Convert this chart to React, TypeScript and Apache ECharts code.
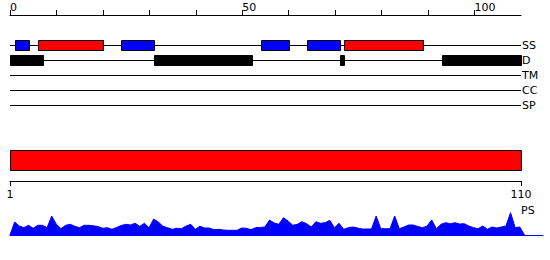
import React, { useEffect, useRef } from "react";
import * as echarts from "echarts";

const tracks = ["SS", "D", "TM", "CC", "SP"];
const topTicks = [0, 10, 20, 30, 40, 50, 60, 70, 80, 90, 100];
const topLabels = [0, 50, 100];
const bottomTicks = [1, 110];
const seqStart = 0;
const seqEnd = 110;
// secondary structure segments [start, end]
const ssRed = [[6, 20], [72, 89]];
const ssBlue = [[1, 4], [24, 31], [54, 60], [64, 71]];
// disorder segments
const disorder = [[0, 7], [31, 52], [71, 72], [93, 110]];
// domain bar
const domainBar = [[1, 110]];
// PS profile, residues 1..110
const psValues = [
  13, 9, 7.3, 9.7, 6.7, 9.7, 9.7, 7.3, 19, 10.7,
  6.3, 9.7, 10.7, 8.7, 7.3, 9.7, 9.7, 9.2, 8.5, 6.7,
  7.3, 5.7, 7.5, 9.5, 10.7, 10, 11.7, 8.7, 11.7, 7.3,
  16, 13, 8.7, 7.3, 5.7, 6.7, 6.3, 9, 10.7, 5.7,
  8.7, 7, 7, 5.3, 5.7, 5, 4.7, 4.7, 4.7, 7,
  6.7, 5.3, 7.3, 7.6, 8, 15, 12, 10.7, 17.3, 14,
  9.7, 10.7, 13.3, 11.3, 8, 13.3, 11.7, 12.3, 14.7, 7.3,
  11.7, 5.7, 7.3, 8, 7, 6, 6, 6, 19, 6.3,
  6.3, 6.3, 19, 6.3, 8, 10, 10, 8.5, 7.3, 9,
  15, 6.3, 10.7, 12.3, 11.3, 12.3, 11, 11.3, 9, 7.3,
  6.3, 9, 5.7, 8, 7, 8, 9, 22.3, 7.3, 8,
];

const FONT = "DejaVu Sans";

export default function App() {
  const ref = useRef<HTMLDivElement>(null);
  useEffect(() => {
    document.body.style.margin = "0";
    const chart = echarts.init(ref.current!, null, { renderer: "svg" });

    const boxRender = (color: string) => (params: any, api: any) => {
      const a = api.coord([api.value(0), api.value(2)]);
      const b = api.coord([api.value(1), api.value(2)]);
      const x0 = Math.round(a[0]);
      const x1 = Math.round(b[0]);
      return {
        type: "rect",
        shape: { x: x0 + 0.5, y: Math.round(a[1]) - 5 + 0.5, width: x1 - x0, height: 10 },
        style: { fill: color, stroke: "#000", lineWidth: 1 },
      };
    };
    const lineRender = (params: any, api: any) => {
      const a = api.coord([api.value(0), api.value(2)]);
      const b = api.coord([api.value(1), api.value(2)]);
      return {
        type: "line",
        shape: { x1: a[0], y1: Math.round(a[1]) + 0.5, x2: b[0], y2: Math.round(a[1]) + 0.5 },
        style: { stroke: "#000", lineWidth: 1 },
      };
    };
    const barRender = (params: any, api: any) => {
      const a = api.coord([api.value(0), 1]);
      const b = api.coord([api.value(1), 0.34]);
      const x0 = Math.round(a[0]);
      const x1 = Math.round(b[0]);
      const y0 = Math.round(a[1]);
      const y1 = Math.round(b[1]);
      return {
        type: "rect",
        shape: { x: x0 + 0.5, y: y0 + 0.5, width: x1 - x0, height: y1 - y0 },
        style: { fill: "#ff0000", stroke: "#000", lineWidth: 1 },
      };
    };

    const psData: number[][] = [[seqStart, 0]];
    psValues.forEach((v, i) => psData.push([i + 1, v]));
    psData.push([seqEnd + 1, 0]);

    const textStyle = { fontFamily: FONT, fontSize: 11, color: "#000" };

    chart.setOption({
      animation: false,
      textStyle: { fontFamily: FONT },
      grid: [
        { left: 10, right: 29, top: 15, height: 105 },
        { left: 10, right: 29, top: 150, height: 31 },
        { left: 10, right: 7, top: 205, bottom: 25 },
      ],
      xAxis: [
        {
          gridIndex: 0,
          type: "value",
          position: "top",
          min: seqStart,
          max: seqEnd,
          axisLine: { onZero: false, lineStyle: { color: "#000", width: 1 } },
          axisTick: { show: true, length: 5, customValues: topTicks, lineStyle: { color: "#000" } },
          axisLabel: { ...textStyle, customValues: topLabels, align: "left", margin: 2 },
          splitLine: { show: false },
        },
        {
          gridIndex: 1,
          type: "value",
          position: "bottom",
          min: 1,
          max: 110,
          axisLine: { onZero: false, lineStyle: { color: "#000", width: 1 } },
          axisTick: { show: true, length: 5, customValues: bottomTicks, lineStyle: { color: "#000" } },
          axisLabel: { ...textStyle, customValues: bottomTicks, margin: 8 },
          splitLine: { show: false },
        },
        {
          gridIndex: 2,
          type: "value",
          min: 0,
          max: 115,
          axisLine: { show: true, onZero: false, lineStyle: { color: "#0000ff", width: 1 } },
          axisTick: { show: false },
          axisLabel: { show: false },
          splitLine: { show: false },
        },
      ],
      yAxis: [
        {
          gridIndex: 0,
          type: "value",
          position: "right",
          inverse: true,
          min: -2,
          max: 5,
          axisLine: { show: false },
          axisTick: { show: false },
          splitLine: { show: false },
          axisLabel: {
            ...textStyle,
            customValues: [0, 1, 2, 3, 4],
            margin: 1,
            align: "left",
            formatter: (v: number) => tracks[v] ?? "",
          },
        },
        { gridIndex: 1, type: "value", min: 0, max: 1, show: false },
        { gridIndex: 2, type: "value", min: 0, max: 30, show: false },
      ],
      graphic: [
        {
          type: "text",
          left: 521,
          top: 205,
          style: { text: "PS", font: `11px ${FONT}`, fill: "#000" },
        },
      ],
      series: [
        {
          type: "custom",
          xAxisIndex: 0,
          yAxisIndex: 0,
          renderItem: lineRender,
          data: tracks.map((t, i) => [seqStart, seqEnd, i]),
          encode: { x: [0, 1], y: 2 },
          silent: true,
          z: 1,
        },
        {
          type: "custom",
          xAxisIndex: 0,
          yAxisIndex: 0,
          renderItem: boxRender("#0000ff"),
          data: ssBlue.map(([s, e]) => [s, e, 0]),
          encode: { x: [0, 1], y: 2 },
          z: 2,
        },
        {
          type: "custom",
          xAxisIndex: 0,
          yAxisIndex: 0,
          renderItem: boxRender("#ff0000"),
          data: ssRed.map(([s, e]) => [s, e, 0]),
          encode: { x: [0, 1], y: 2 },
          z: 2,
        },
        {
          type: "custom",
          xAxisIndex: 0,
          yAxisIndex: 0,
          renderItem: boxRender("#000000"),
          data: disorder.map(([s, e]) => [s, e, 1]),
          encode: { x: [0, 1], y: 2 },
          z: 2,
        },
        {
          type: "custom",
          xAxisIndex: 1,
          yAxisIndex: 1,
          renderItem: barRender,
          data: domainBar.map(([s, e]) => [s, e]),
          encode: { x: [0, 1] },
          z: 2,
        },
        {
          type: "line",
          xAxisIndex: 2,
          yAxisIndex: 2,
          data: psData,
          symbol: "none",
          lineStyle: { color: "#0000ff", width: 1 },
          areaStyle: { color: "#0000ff", opacity: 1 },
          z: 2,
        },
      ],
    });
    return () => chart.dispose();
  }, []);
  return <div ref={ref} style={{ width: 550, height: 260 }} />;
}
